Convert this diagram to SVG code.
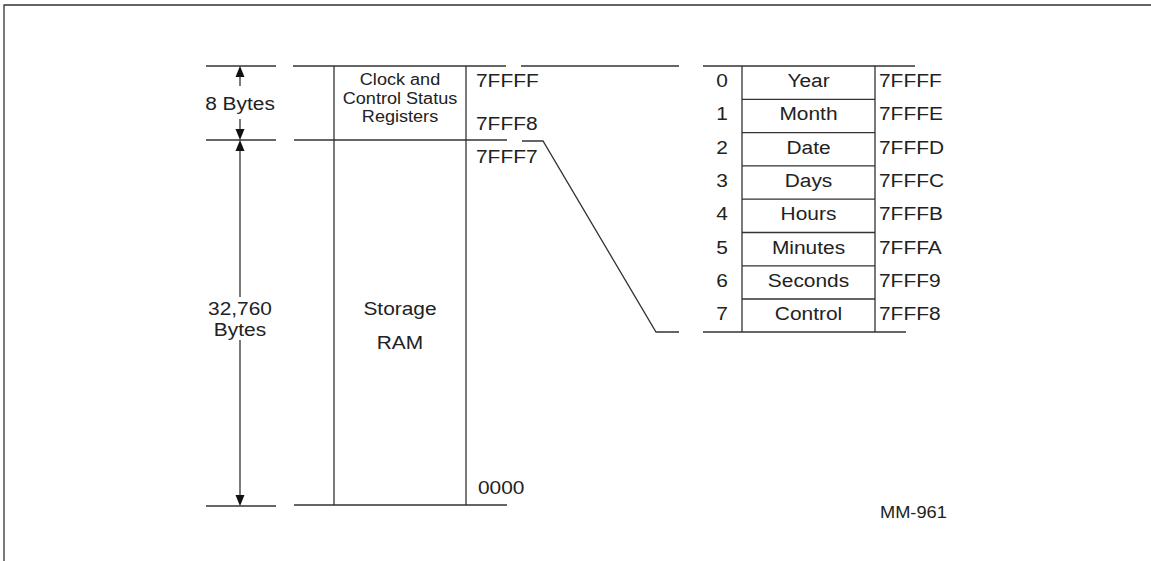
<svg xmlns="http://www.w3.org/2000/svg" width="1151" height="561" viewBox="0 0 1151 561">
<style>
.ln{stroke:#333;stroke-width:1.3;fill:none}
.ah{fill:#111;stroke:none}
.t{font-family:"Liberation Sans",Arial,sans-serif;font-size:19px;fill:#222}
.s{font-family:"Liberation Sans",Arial,sans-serif;font-size:16px;fill:#222}
.m{text-anchor:middle}
</style>
<defs>
<path id="ahUp" class="ah" d="M0,0 L4.5,11 L-4.5,11 z"/>
<path id="ahDown" class="ah" d="M0,0 L4.5,-11 L-4.5,-11 z"/>
</defs>
<rect width="1151" height="561" fill="#fff"/>
<g id="frame">
<path class="ln" d="M4,561 V5 H1151"/>
</g>
<g id="dimension-8-bytes">
<path class="ln" d="M206,66 H276 M206,140 H276"/>
<line class="ln" x1="240" y1="86" x2="240" y2="72"/>
<use href="#ahUp" x="240" y="66"/>
<line class="ln" x1="240" y1="119" x2="240" y2="134"/>
<use href="#ahDown" x="240" y="140"/>
<text class="t m" transform="translate(240,110) scale(1.1,1)">8 Bytes</text>
</g>
<g id="dimension-32760-bytes">
<path class="ln" d="M206,506 H276"/>
<line class="ln" x1="240" y1="146" x2="240" y2="297"/>
<line class="ln" x1="240" y1="340" x2="240" y2="500"/>
<use href="#ahUp" x="240" y="140"/>
<use href="#ahDown" x="240" y="506"/>
<text class="t m" transform="translate(240,315) scale(1.1,1)">32,760</text>
<text class="t m" transform="translate(240,336) scale(1.1,1)">Bytes</text>
</g>
<g id="registers-block">
<path class="ln" d="M293,66 H506 M294,140 H507 M334,66 V140 M466,66 V140"/>
<text class="s m" transform="translate(400,85) scale(1.13,1)">Clock and</text>
<text class="s m" transform="translate(400,104) scale(1.13,1)">Control Status</text>
<text class="s m" transform="translate(400,122) scale(1.13,1)">Registers</text>
<text class="t" transform="translate(476,87) scale(1.1,1)">7FFFF</text>
<text class="t" transform="translate(476,130) scale(1.1,1)">7FFF8</text>
</g>
<g id="storage-ram">
<path class="ln" d="M334,140 V505 M466,140 V505 M294,505 H507"/>
<text class="t m" transform="translate(400,315) scale(1.1,1)">Storage</text>
<text class="t m" transform="translate(400,349) scale(1.1,1)">RAM</text>
<text class="t" transform="translate(476,163) scale(1.1,1)">7FFF7</text>
<text class="t" transform="translate(478,494) scale(1.1,1)">0000</text>
</g>
<g id="connectors">
<path class="ln" d="M521,66 H679"/>
<path class="ln" d="M522,141 H543 L656,332 H679"/>
</g>
<g id="register-table">
<path class="ln" d="M703,66 H915 M703,332 H906 M742,66 V332 M875,66 V332"/>
<path class="ln" d="M742,99.3 H875 M742,132.6 H875 M742,165.9 H875 M742,199.2 H875 M742,232.5 H875 M742,265.8 H875 M742,299 H875"/>
</g>
<g id="row-0"><text class="t m" transform="translate(722,87) scale(1.1,1)">0</text><text class="t m" transform="translate(808.5,87) scale(1.1,1)">Year</text><text class="t" transform="translate(879,87) scale(1.1,1)">7FFFF</text></g>
<g id="row-1"><text class="t m" transform="translate(722,120.3) scale(1.1,1)">1</text><text class="t m" transform="translate(808.5,120.3) scale(1.1,1)">Month</text><text class="t" transform="translate(879,120.3) scale(1.1,1)">7FFFE</text></g>
<g id="row-2"><text class="t m" transform="translate(722,153.6) scale(1.1,1)">2</text><text class="t m" transform="translate(808.5,153.6) scale(1.1,1)">Date</text><text class="t" transform="translate(879,153.6) scale(1.1,1)">7FFFD</text></g>
<g id="row-3"><text class="t m" transform="translate(722,186.9) scale(1.1,1)">3</text><text class="t m" transform="translate(808.5,186.9) scale(1.1,1)">Days</text><text class="t" transform="translate(879,186.9) scale(1.1,1)">7FFFC</text></g>
<g id="row-4"><text class="t m" transform="translate(722,220.2) scale(1.1,1)">4</text><text class="t m" transform="translate(808.5,220.2) scale(1.1,1)">Hours</text><text class="t" transform="translate(879,220.2) scale(1.1,1)">7FFFB</text></g>
<g id="row-5"><text class="t m" transform="translate(722,253.5) scale(1.1,1)">5</text><text class="t m" transform="translate(808.5,253.5) scale(1.1,1)">Minutes</text><text class="t" transform="translate(879,253.5) scale(1.1,1)">7FFFA</text></g>
<g id="row-6"><text class="t m" transform="translate(722,286.8) scale(1.1,1)">6</text><text class="t m" transform="translate(808.5,286.8) scale(1.1,1)">Seconds</text><text class="t" transform="translate(879,286.8) scale(1.1,1)">7FFF9</text></g>
<g id="row-7"><text class="t m" transform="translate(722,320.1) scale(1.1,1)">7</text><text class="t m" transform="translate(808.5,320.1) scale(1.1,1)">Control</text><text class="t" transform="translate(879,320.1) scale(1.1,1)">7FFF8</text></g>
<g id="figure-label">
<text class="t" style="font-size:16px" transform="translate(880,518) scale(1.14,1)">MM-961</text>
</g>
</svg>
